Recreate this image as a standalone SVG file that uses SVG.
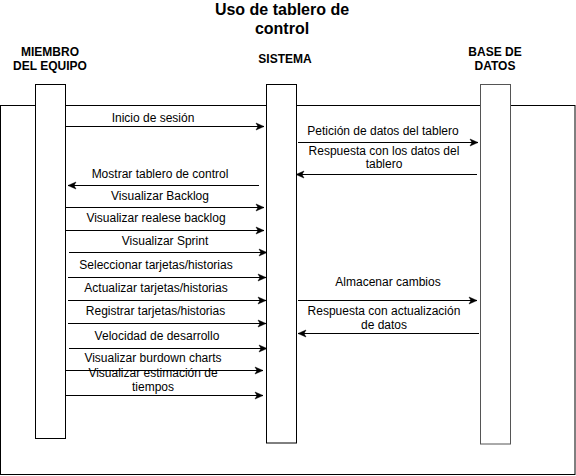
<svg xmlns="http://www.w3.org/2000/svg" width="576" height="476" viewBox="0 0 576 476">
<style>
text{font-family:"Liberation Sans",Arial,sans-serif;fill:#000}
.t{font-size:16px;font-weight:bold;text-anchor:middle}
.h{font-size:12px;font-weight:bold;text-anchor:middle}
.l{font-size:12px;text-anchor:middle}
.box{fill:#fff;stroke:#000;stroke-width:1}
.msg{stroke:#000;stroke-width:1;fill:none;marker-end:url(#ah)}
</style>
<defs>
<marker id="ah" markerUnits="userSpaceOnUse" markerWidth="9" markerHeight="8" refX="8" refY="3.5" orient="auto" overflow="visible">
<path d="M0,0 L8,3.5 L0,7 L2,3.5 Z" fill="#000" stroke="#000" stroke-width="0.5"/>
</marker>
</defs>
<rect width="576" height="476" fill="#fff"/>
<g id="title">
<text class="t" x="282" y="15">Uso de tablero de</text>
<text class="t" x="282" y="34">control</text>
</g>
<rect id="frame" x="0.5" y="105.5" width="574.5" height="369" fill="none" stroke="#000"/>
<g id="miembro">
<text class="h" x="50" y="56">MIEMBRO</text>
<text class="h" x="50" y="69.5">DEL EQUIPO</text>
<rect class="box" x="35.5" y="84.5" width="30" height="354"/>
</g>
<g id="sistema">
<text class="h" x="285" y="63">SISTEMA</text>
<rect class="box" x="266.5" y="84.5" width="30" height="358.5"/>
</g>
<g id="basedatos">
<text class="h" x="495" y="56">BASE DE</text>
<text class="h" x="495" y="69.5">DATOS</text>
<rect class="box" x="480.5" y="84.5" width="30" height="359.5" style="stroke:#555"/>
</g>
<g id="connectors">
<line class="msg" x1="65" y1="126.5" x2="264" y2="126.5"/>
<line class="msg" x1="298" y1="142.5" x2="478" y2="142.5"/>
<line class="msg" x1="477" y1="174.5" x2="296" y2="174.5"/>
<line class="msg" x1="259" y1="185.5" x2="68" y2="185.5"/>
<line class="msg" x1="65" y1="207.5" x2="264" y2="207.5"/>
<line class="msg" x1="65" y1="230.5" x2="264" y2="230.5"/>
<line class="msg" x1="69" y1="252.5" x2="267" y2="252.5"/>
<line class="msg" x1="68" y1="277.5" x2="266" y2="277.5"/>
<line class="msg" x1="68" y1="300.5" x2="266" y2="300.5"/>
<line class="msg" x1="68" y1="323.5" x2="266" y2="323.5"/>
<line class="msg" x1="69" y1="348.5" x2="267" y2="348.5"/>
<line class="msg" x1="298" y1="300.5" x2="477" y2="300.5"/>
<line class="msg" x1="479" y1="333.5" x2="298" y2="333.5"/>
<line class="msg" x1="65" y1="370.5" x2="263" y2="370.5"/>
<line class="msg" x1="65" y1="395.5" x2="263" y2="395.5"/>
</g>
<g id="labels">
<text class="l" x="153" y="122">Inicio de sesión</text>
<text class="l" x="383" y="135">Petición de datos del tablero</text>
<text class="l" x="384" y="155">Respuesta con los datos del</text>
<text class="l" x="384" y="168">tablero</text>
<text class="l" x="160" y="178">Mostrar tablero de control</text>
<text class="l" x="160" y="200">Visualizar Backlog</text>
<text class="l" x="156" y="222">Visualizar realese backlog</text>
<text class="l" x="165" y="245">Visualizar Sprint</text>
<text class="l" x="156" y="269">Seleccionar tarjetas/historias</text>
<text class="l" x="156" y="292">Actualizar tarjetas/historias</text>
<text class="l" x="155.5" y="315">Registrar tarjetas/historias</text>
<text class="l" x="157" y="340">Velocidad de desarrollo</text>
<text class="l" x="388" y="286">Almacenar cambios</text>
<text class="l" x="384" y="315">Respuesta con actualización</text>
<text class="l" x="384" y="328.5">de datos</text>
<text class="l" x="153" y="362">Visualizar burdown charts</text>
<text class="l" x="153" y="377">Visualizar estimación de</text>
<text class="l" x="153" y="391">tiempos</text>
</g>
</svg>
